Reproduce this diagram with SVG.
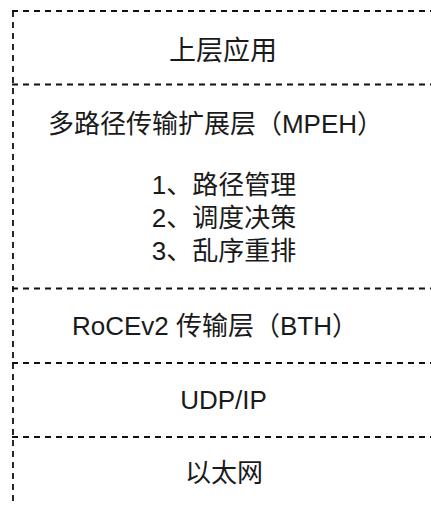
<svg xmlns="http://www.w3.org/2000/svg" width="431" height="506" viewBox="0 0 431 506">
<style>
.b{stroke:#111111;stroke-width:1.8;stroke-dasharray:6 5;fill:none}
.t{font-family:"Liberation Sans","Noto Sans CJK SC",sans-serif;font-size:26px;fill:#1a1a1a;text-anchor:middle}
.c{font-size:27px}
</style>
<rect width="431" height="506" fill="#ffffff"/>
<g id="frame">
<line class="b" x1="13" y1="11" x2="13" y2="506"/>
</g>
<g id="layer-app">
<line class="b" x1="12" y1="11" x2="431" y2="11"/>
<text class="t c" x="223" y="59.5">上层应用</text>
</g>
<g id="layer-mpeh">
<line class="b" x1="12" y1="84.5" x2="431" y2="84.5"/>
<text class="t" x="215.5" y="133">多路径传输扩展层（MPEH）</text>
<text class="t" x="224" y="194">1、路径管理</text>
<text class="t" x="224" y="227">2、调度决策</text>
<text class="t" x="224" y="260">3、乱序重排</text>
</g>
<g id="layer-bth">
<line class="b" x1="12" y1="288.5" x2="431" y2="288.5"/>
<text class="t" x="215" y="335">RoCEv2 传输层（BTH）</text>
</g>
<g id="layer-udpip">
<line class="b" x1="12" y1="363" x2="431" y2="363"/>
<text class="t" x="223.5" y="409">UDP/IP</text>
</g>
<g id="layer-eth">
<line class="b" x1="12" y1="437" x2="431" y2="437"/>
<text class="t" x="224" y="482">以太网</text>
</g>
<g id="connectors"/>
</svg>
